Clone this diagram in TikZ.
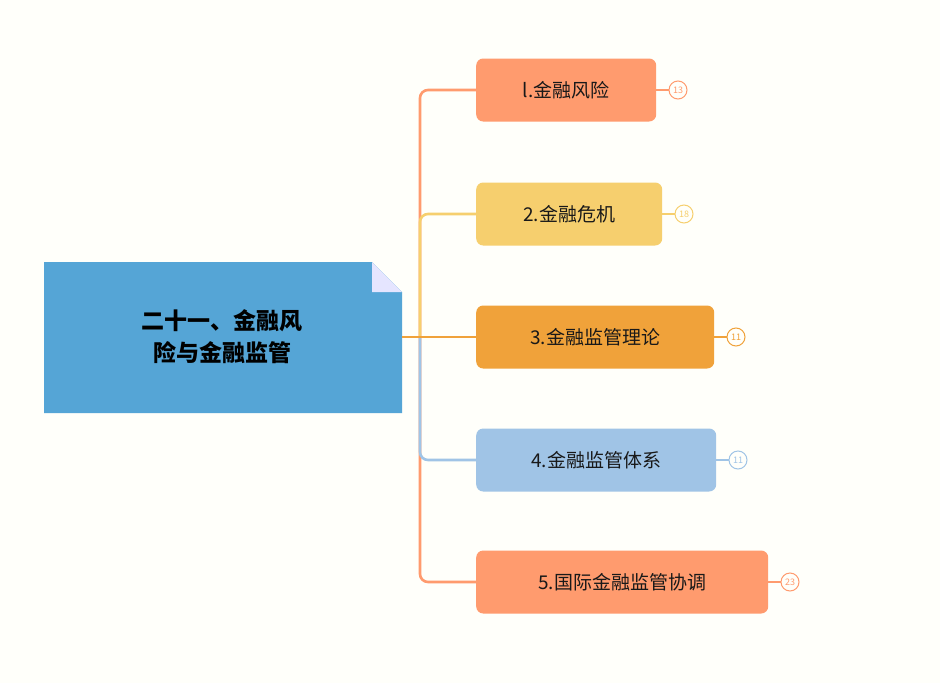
\documentclass[tikz,border=0pt]{standalone}
\usepackage{fontspec}
\setmainfont{Noto Sans CJK SC}
\begin{document}
\begin{tikzpicture}[x=1pt,y=-1pt,
  br/.style={rounded corners=7pt,minimum height=63pt,anchor=west,font=\fontsize{19}{22}\selectfont,text=black!90},
  cnt/.style={circle,draw,line width=1pt,minimum size=18pt,inner sep=0pt,font=\fontsize{9}{10}\selectfont},
  ln/.style={line width=2.6pt,rounded corners=8pt}]
\definecolor{salmon}{HTML}{FF9B6E}
\definecolor{yel}{HTML}{F6CF6E}
\definecolor{org}{HTML}{F0A23A}
\definecolor{blu}{HTML}{A0C4E6}
\definecolor{mainb}{HTML}{55A5D6}
\fill[white!98!yellow] (0,0) rectangle (940,683);
\useasboundingbox (0,0) rectangle (940,683);
\fill[mainb] (44,262) -- (372,262) -- (402,292) -- (402,413) -- (44,413) -- cycle;
\fill[blue!10!white] (372,262) -- (372,292) -- (402,292) -- cycle;
\node[font=\bfseries\fontsize{23}{32}\selectfont,align=center] (main) at (222,337) {二十一、金融风\\险与金融监管};
\coordinate (mr) at (402,337);
\node[br,fill=salmon,minimum width=180pt] (b1) at (476,90) {l.金融风险};
\node[br,fill=yel,minimum width=186pt] (b2) at (476,214) {2.金融危机};
\node[br,fill=org,minimum width=238pt] (b3) at (476,337) {3.金融监管理论};
\node[br,fill=blu,minimum width=240pt] (b4) at (476,460) {4.金融监管体系};
\node[br,fill=salmon,minimum width=292pt] (b5) at (476,582) {5.国际金融监管协调};
\node[cnt,draw=salmon,text=salmon] (c1) at (678,90) {13};
\node[cnt,draw=yel,text=yel] (c2) at (684,214) {18};
\node[cnt,draw=org,text=org] (c3) at (736,337) {11};
\node[cnt,draw=blu,text=blu] (c4) at (738,460) {11};
\node[cnt,draw=salmon,text=salmon] (c5) at (790,582) {23};
\foreach \i in {1,...,5}{\draw[line width=1.5pt,draw=salmon] (b\i.east) -- (c\i.west);}
\draw[line width=1.5pt,draw=yel] (b2.east) -- (c2.west);
\draw[line width=1.5pt,draw=org] (b3.east) -- (c3.west);
\draw[line width=1.5pt,draw=blu] (b4.east) -- (c4.west);
\draw[ln,salmon] (b1.west) -| (420,337) |- (b5.west);
\draw[ln,yel] (b2.west) -| (420,337);
\draw[ln,blu] (b4.west) -| (420,337);
\draw[ln,org] (mr) -- (b3.west);
\end{tikzpicture}
\end{document}
